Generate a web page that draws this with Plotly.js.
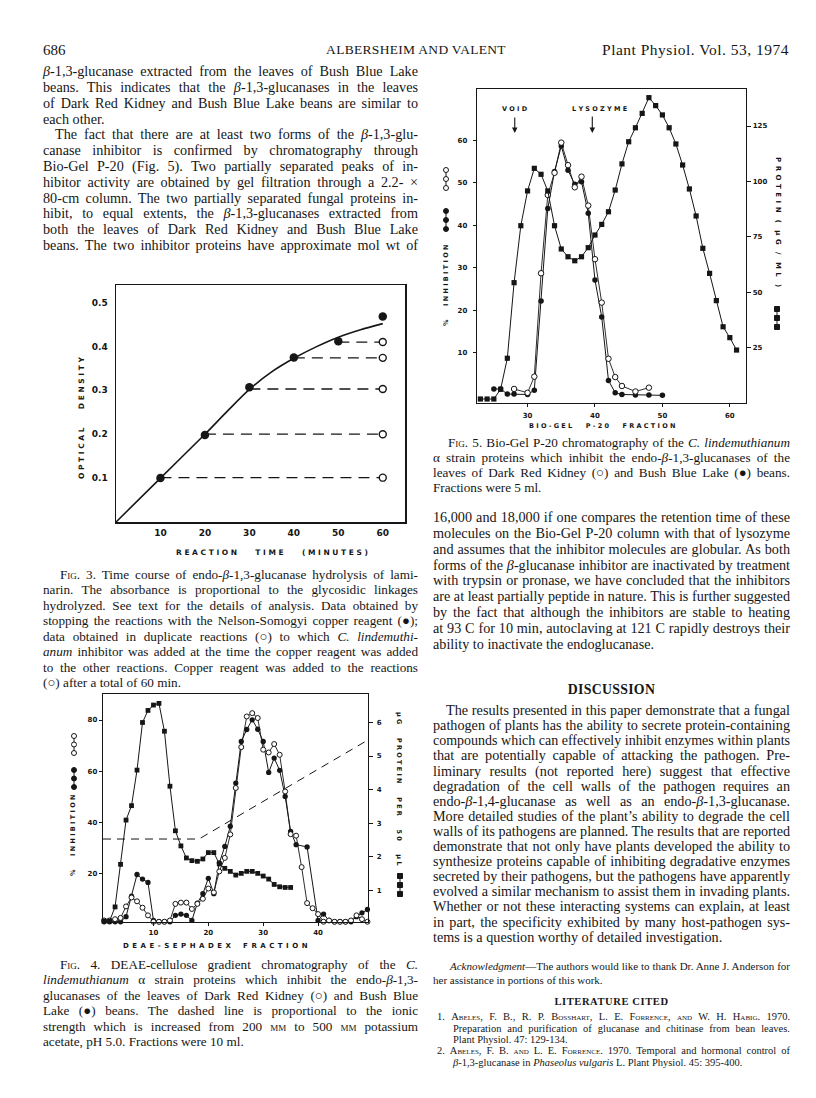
<!DOCTYPE html>
<html><head><meta charset="utf-8">
<script src="https://cdn.plot.ly/plotly-3.0.1.min.js"></script>
<style>
html,body{margin:0;padding:0;background:#fff;}
#page{position:relative;width:816px;height:1098px;overflow:hidden;background:#fff;}
#plot{position:absolute;left:0;top:0;width:816px;height:1098px;}
#text{position:absolute;left:0;top:0;width:816px;height:1098px;pointer-events:none;}
.ln{position:absolute;white-space:nowrap;font-family:"Liberation Serif","Times New Roman",serif;color:#161616;}
.ln span.t{display:inline-block;white-space:nowrap;transform-origin:0 50%;}
.sc{font-variant:small-caps;}
</style></head>
<body><div id="page"><div id="plot"></div><div id="text"></div></div>
<script>
// ================= DATA =================
// Fig. 3  time course (minutes, optical density)
const fig3Time = [10, 20, 30, 40, 50, 60];
const fig3OD = [0.100, 0.198, 0.307, 0.375, 0.412, 0.468];
const fig3CurveTime = [0, 10, 20, 25, 30, 35, 40, 45, 50, 55, 60];
const fig3CurveOD = [0, 0.100, 0.200, 0.252, 0.302, 0.342, 0.373, 0.399, 0.421, 0.438, 0.452];
const fig3StopTime = [10, 20, 30, 40, 50];
const fig3InhibitedOD = [0.101, 0.200, 0.303, 0.374, 0.410];
const fig3InhibitedAt = 60;
const fig3XTicks = [10, 20, 30, 40, 50, 60];
const fig3YTicks = [0.1, 0.2, 0.3, 0.4, 0.5];

// Fig. 4  DEAE-Sephadex fractions
const fig4DRKFrac = [1,2,3,4,5,6,7,8,9,10,11,12,13,14,15,16,17,18,19,20,21,22,23,24,25,26,27,28,29,30,31,32,33,34,35,36,37,38,39,40,41,42,43,44,45,46,47,48,49];
const fig4DRK = [1.5,1.5,2,2.5,7,10.5,9,6.5,3.5,1,1,1,1.5,8,8.5,8.5,6,8,10,14,12.5,20.7,26,35.2,53.4,69.4,81.4,82.7,80.8,68.4,67.3,70.6,66.4,52,35.3,34.7,22.4,8.3,6.3,4,1,1.5,1,1,1,1.5,3.5,2,1];
const fig4BBLFrac = [1,2,3,4,5,6,7,8,9,10,11,12,13,14,15,16,17,18,19,20,21,22,23,24,25,26,27,28,29,30,31,32,33,34,35,36,38,40,41,42,43,44,45,46,47,48,49];
const fig4BBL = [1,1,1,1,3,11,19.5,17.7,16.4,1.5,1,1,1,3.5,4,3.5,1.5,8.3,12,18,12,24,30.5,38.4,55.3,71.6,76.3,80.1,76.4,71.6,59.5,65.1,60.3,50.1,36.4,31.2,30.3,1.5,4,1.5,1,1,1,1,3,4.5,5.8];
const fig4ProtFrac = [1,2,3,4,5,6,7,8,9,10,11,12,13,14,15,16,17,18,19,20,21,22,23,24,25,26,27,28,29,30,31,32,33,34,35];
const fig4Protein = [0.08,0.08,0.5,1.77,3.09,3.52,4.58,6.0,6.36,6.52,6.57,5.74,4.1,2.77,2.32,1.96,1.88,1.86,1.93,2.12,2.12,1.78,1.65,1.56,1.45,1.5,1.56,1.56,1.5,1.42,1.33,1.17,1.1,1.08,1.08];
const fig4GradFrac = [0.8, 18.3, 49.1];
const fig4GradLevel = [33.4, 33.4, 72.2];
const fig4XTicks = [10, 20, 30, 40];
const fig4YTicks = [20, 40, 60, 80];
const fig4Y2Ticks = [1, 2, 3, 4, 5, 6];

// Fig. 5  Bio-Gel P-20 fractions
const fig5ProtFrac = [23,24,25,26,27,28,29,30,31,32,33,34,35,36,37,38,39,40,41,42,43,44,45,46,47,48,49,50,51,52,53,54,55,56,57,58,59,60,61];
const fig5Protein = [1.8,1.8,1.8,6.2,20.2,54.3,80,95.7,105.9,103.2,95.7,80,69.5,66,64.2,66,70.1,75.8,80.6,86.3,96.1,107.9,117.9,124.2,130.7,137.8,134.2,130,124.2,116.9,107.4,96.6,84.4,69.8,58.5,46.2,34.4,29.5,23.9];
const fig5BBLFrac = [25,26,27,28,30,31,32,33,34,35,36,37,38,39,40,41,42,43,44,46,48,50];
const fig5BBL = [1.5,1.5,0.3,0.3,0.2,1.2,22.2,43.9,52.6,58.6,52.9,49.6,50.2,42.8,27.1,18.4,3.5,0.6,0.2,0.1,0.1,0];
const fig5DRKFrac = [28,30,31,32,33,34,35,36,37,38,39,40,41,42,43,44,46,48];
const fig5DRK = [1.5,0.6,4.4,28.7,47.1,52.3,59.4,54.1,48.9,51.4,44.6,32,21.8,8.6,4.3,2.2,0.9,1.8];
const fig5VoidFrac = 28.1;
const fig5LysozymeFrac = 39.6;
const fig5XTicks = [30, 40, 50, 60];
const fig5YTicks = [10, 20, 30, 40, 50, 60];
const fig5Y2Ticks = [25, 50, 75, 100, 125];

// ================= PLOT =================
const W = 816, H = 1098;
const px = v => v / W, py = v => 1 - v / H;
const INK = '#161616';
const tickFont3 = {family: 'DejaVu Sans, sans-serif', size: 9, color: INK, weight: 'bold'};
const tickFontS = {family: 'DejaVu Sans, sans-serif', size: 7, color: INK, weight: 'bold'};
const titleFont3 = {family: 'DejaVu Sans, sans-serif', size: 7.5, color: INK, weight: 'bold'};
const titleFontS = {family: 'DejaVu Sans, sans-serif', size: 6.5, color: INK, weight: 'bold'};
const titleFontM = {family: 'DejaVu Sans, sans-serif', size: 7, color: INK, weight: 'bold'};

function ax(o) {
  return Object.assign({showgrid: false, zeroline: false, showline: true, linecolor: INK, linewidth: 1.5, fixedrange: true}, o);
}

const traces = [];
// Fig 3
traces.push({x: fig3CurveTime, y: fig3CurveOD, xaxis: 'x', yaxis: 'y', mode: 'lines',
  line: {color: INK, width: 1.6, shape: 'spline', smoothing: 0.8}, hoverinfo: 'skip'});
const dx = [], dy = [];
fig3StopTime.forEach((t, i) => { dx.push(t, fig3InhibitedAt, null); dy.push(fig3InhibitedOD[i], fig3InhibitedOD[i], null); });
traces.push({x: dx, y: dy, xaxis: 'x', yaxis: 'y', mode: 'lines', line: {color: INK, width: 1.3, dash: '11px,7px'}});
traces.push({x: fig3Time, y: fig3OD, xaxis: 'x', yaxis: 'y', mode: 'markers', cliponaxis: false,
  marker: {size: 8.5, color: INK}});
traces.push({x: fig3StopTime.map(() => fig3InhibitedAt), y: fig3InhibitedOD, xaxis: 'x', yaxis: 'y', mode: 'markers', cliponaxis: false,
  marker: {size: 7, color: '#fff', line: {color: INK, width: 1.4}}});
// Fig 4
traces.push({x: fig4GradFrac, y: fig4GradLevel, xaxis: 'x2', yaxis: 'y2', mode: 'lines', line: {color: INK, width: 1, dash: '8px,6px'}});
traces.push({x: fig4ProtFrac, y: fig4Protein, xaxis: 'x2', yaxis: 'y3', mode: 'lines+markers', cliponaxis: false,
  line: {color: INK, width: 1}, marker: {symbol: 'square', size: 4.8, color: INK}});
traces.push({x: fig4BBLFrac, y: fig4BBL, xaxis: 'x2', yaxis: 'y2', mode: 'lines+markers', cliponaxis: false,
  line: {color: INK, width: 1}, marker: {size: 5.3, color: INK}});
traces.push({x: fig4DRKFrac, y: fig4DRK, xaxis: 'x2', yaxis: 'y2', mode: 'lines+markers', cliponaxis: false,
  line: {color: INK, width: 0.9}, marker: {size: 5, color: '#fff', line: {color: INK, width: 1}}});
// Fig 5
traces.push({x: fig5ProtFrac, y: fig5Protein, xaxis: 'x3', yaxis: 'y5', mode: 'lines+markers', cliponaxis: false,
  line: {color: INK, width: 1}, marker: {symbol: 'square', size: 5.2, color: INK}});
traces.push({x: fig5BBLFrac, y: fig5BBL, xaxis: 'x3', yaxis: 'y4', mode: 'lines+markers', cliponaxis: false,
  line: {color: INK, width: 1}, marker: {size: 5.5, color: INK}});
traces.push({x: fig5DRKFrac, y: fig5DRK, xaxis: 'x3', yaxis: 'y4', mode: 'lines+markers', cliponaxis: false,
  line: {color: INK, width: 0.9}, marker: {size: 5.5, color: '#fff', line: {color: INK, width: 1}}});

function spaced(s, gap, sep) {
  const g = '\u00A0'.repeat(gap || 5);
  return s.split(' ').map(w => w.split('').join(sep || ' ')).join(g);
}
function ann(text, x, y, font, angle, extra) {
  return Object.assign({text: text, xref: 'paper', yref: 'paper', x: px(x), y: py(y), showarrow: false,
    xanchor: 'center', yanchor: 'middle', font: font, textangle: angle || 0}, extra || {});
}
const annotations = [
  ann(spaced('REACTION TIME (MINUTES)', 7), 272, 552, titleFont3),
  ann(spaced('OPTICAL DENSITY', 7), 81, 418, titleFont3, -90),
  ann(spaced('DEAE-SEPHADEX FRACTION', 5, '\u2002'), 215, 946, titleFontM),
  ann(spaced('% INHIBITION', 6), 73, 836, titleFontS, -90),
  ann(spaced('\u00B5G PROTEIN PER 50 \u00B5L', 6), 399, 789, titleFontS, 90),
  ann(spaced('BIO-GEL P-20 FRACTION', 6), 602, 426, titleFontS),
  ann(spaced('% INHIBITION', 6), 446, 285, titleFontS, -90),
  ann(spaced('PROTEIN ( \u00B5G / ML )', 3, '\u2002'), 778, 222, titleFontM, 90),
  {text: spaced('VOID'), xref: 'x3', yref: 'paper', x: fig5VoidFrac, y: py(109), showarrow: false, xanchor: 'center', yanchor: 'middle', font: titleFontS},
  {text: spaced('LYSOZYME'), xref: 'x3', yref: 'paper', x: fig5LysozymeFrac, xshift: 7, y: py(109), showarrow: false, xanchor: 'center', yanchor: 'middle', font: titleFontS},
  {text: '', xref: 'x3', yref: 'paper', x: fig5VoidFrac, y: py(133), ax: 0, ay: -17, showarrow: true, arrowhead: 2, arrowsize: 1, arrowwidth: 1.1, arrowcolor: INK},
  {text: '', xref: 'x3', yref: 'paper', x: fig5LysozymeFrac, y: py(133), ax: 0, ay: -18, showarrow: true, arrowhead: 2, arrowsize: 1, arrowwidth: 1.1, arrowcolor: INK}
];

// legend glyph stacks (pixel-sized shapes)
const shapes = [];
function stack(x, ys, kind) {
  const mid = (ys[0] + ys[ys.length - 1]) / 2, h = ys[ys.length - 1] - ys[0];
  shapes.push({type: 'line', xref: 'paper', yref: 'paper', xsizemode: 'pixel', ysizemode: 'pixel',
    xanchor: px(x), yanchor: py(mid), x0: 0, x1: 0, y0: -h / 2, y1: h / 2, line: {color: INK, width: 1}});
  ys.forEach(y => {
    const r = 2.5;
    shapes.push({type: kind === 'square' ? 'rect' : 'circle', xref: 'paper', yref: 'paper', xsizemode: 'pixel', ysizemode: 'pixel',
      xanchor: px(x), yanchor: py(y), x0: -r, x1: r, y0: -r, y1: r,
      line: {color: INK, width: 1}, fillcolor: kind === 'open' ? '#fff' : INK});
  });
}
stack(74, [736, 744.5, 753], 'open');
stack(74, [770, 778.5, 787], 'filled');
stack(400, [876, 885, 894], 'square');
stack(446, [170, 179, 188], 'open');
stack(446, [211, 220, 229], 'filled');
stack(777, [309, 318, 327], 'square');

const layout = {
  width: W, height: H, margin: {l: 0, r: 0, t: 0, b: 0}, showlegend: false,
  paper_bgcolor: 'rgba(0,0,0,0)', plot_bgcolor: 'rgba(0,0,0,0)',
  xaxis: ax({domain: [px(116), px(405)], range: [0, 65], anchor: 'y', mirror: true, ticks: '', tickvals: fig3XTicks, tickfont: tickFont3, ticklabelstandoff: 2}),
  yaxis: ax({domain: [py(522), py(285)], range: [0, 0.54], anchor: 'x', mirror: true, ticks: '', tickvals: fig3YTicks, tickfont: tickFont3, ticklabelstandoff: 5}),
  xaxis2: ax({domain: [px(103), px(368)], range: [0.8, 49.1], anchor: 'y2', mirror: true, ticks: 'outside', ticklen: 3, tickcolor: INK, tickvals: fig4XTicks, tickfont: tickFontS, linewidth: 1.3}),
  yaxis2: ax({domain: [py(922), py(694)], range: [0.9, 90.2], anchor: 'x2', ticks: 'outside', ticklen: 3, tickcolor: INK, tickvals: fig4YTicks, tickfont: tickFontS, linewidth: 1.3}),
  yaxis3: ax({overlaying: 'y2', side: 'right', anchor: 'x2', range: [0.05, 6.85], ticks: 'outside', ticklen: 4, tickcolor: INK, tickvals: fig4Y2Ticks, tickfont: tickFontS, linewidth: 1.3, ticklabelstandoff: 2}),
  xaxis3: ax({domain: [px(477), px(746)], range: [22.5, 62.4], anchor: 'y4', mirror: true, ticks: 'outside', ticklen: 3, tickcolor: INK, tickvals: fig5XTicks, tickfont: tickFontS, linewidth: 1.3, ticklabelstandoff: 2}),
  yaxis4: ax({domain: [py(403), py(89)], range: [-1.8, 72], anchor: 'x3', ticks: 'outside', ticklen: 3, tickcolor: INK, tickvals: fig5YTicks, tickfont: tickFontS, linewidth: 1.3, ticklabelstandoff: 4}),
  yaxis5: ax({overlaying: 'y4', side: 'right', anchor: 'x3', range: [0, 141.7], ticks: 'outside', ticklen: 4, tickcolor: INK, tickvals: fig5Y2Ticks, tickfont: tickFontS, linewidth: 1.3}),
  annotations: annotations, shapes: shapes
};
Plotly.newPlot('plot', traces, layout, {staticPlot: true, displayModeBar: false});

// ================= TEXT =================
const textRoot = document.getElementById('text');
function block(lines, o) {
  lines.forEach((html, i) => {
    const size = o.size, lh = size * 1.25;
    const y = o.y0 + i * o.pitch;
    const ind = (o.indent && o.indent[i]) || 0;
    const d = document.createElement('div');
    d.className = 'ln';
    d.style.left = (o.x + ind) + 'px';
    d.style.top = (y - lh / 2) + 'px';
    d.style.width = (o.w - ind) + 'px';
    d.style.fontSize = size + 'px';
    d.style.lineHeight = lh + 'px';
    if (o.weight) d.style.fontWeight = o.weight;
    if (o.ls) d.style.letterSpacing = o.ls + 'px';
    if (o.align) d.style.textAlign = o.align;
    const s = document.createElement('span');
    s.className = 't';
    s.innerHTML = html;
    d.appendChild(s);
    textRoot.appendChild(d);
    const nat = s.getBoundingClientRect().width, target = o.w - ind;
    const ragged = o.ragged && o.ragged.indexOf(i) >= 0;
    if (nat > target) s.style.transform = 'scaleX(' + (target / nat) + ')';
    else if (o.justify && !ragged) {
      const n = (s.textContent.match(/ /g) || []).length;
      if (n) s.style.wordSpacing = ((target - nat) / n) + 'px';
    }
  });
}
const B = '<i>\u03B2</i>';
const FIG = n => 'F<span class="sc">ig</span>. ' + n + '.';

// header
block(['686'], {x: 43, w: 60, y0: 50, pitch: 0, size: 15});
block(['ALBERSHEIM AND VALENT'], {x: 316, w: 200, y0: 50, pitch: 0, size: 13.5, ls: 0.3, align: 'center'});
block(['Plant Physiol. Vol. 53, 1974'], {x: 560, w: 229, y0: 50, pitch: 0, size: 15.5, ls: 0.5, align: 'right'});

block([
  B + '-1,3-glucanase extracted from the leaves of Bush Blue Lake',
  'beans. This indicates that the ' + B + '-1,3-glucanases in the leaves',
  'of Dark Red Kidney and Bush Blue Lake beans are similar to',
  'each other.',
  'The fact that there are at least two forms of the ' + B + '-1,3-glu-',
  'canase inhibitor is confirmed by chromatography through',
  'Bio-Gel P-20 (Fig. 5). Two partially separated peaks of in-',
  'hibitor activity are obtained by gel filtration through a 2.2- \u00D7',
  '80-cm column. The two partially separated fungal proteins in-',
  'hibit, to equal extents, the ' + B + '-1,3-glucanases extracted from',
  'both the leaves of Dark Red Kidney and Bush Blue Lake',
  'beans. The two inhibitor proteins have approximate mol wt of'
], {x: 43, w: 375, y0: 72, pitch: 15.8, size: 14.2, justify: true, ragged: [3], indent: {4: 12}});

block([
  FIG(3) + ' Time course of endo-' + B + '-1,3-glucanase hydrolysis of lami-',
  'narin. The absorbance is proportional to the glycosidic linkages',
  'hydrolyzed. See text for the details of analysis. Data obtained by',
  'stopping the reactions with the Nelson-Somogyi copper reagent (\u25CF);',
  'data obtained in duplicate reactions (\u25CB) to which <i>C. lindemuthi-</i>',
  '<i>anum</i> inhibitor was added at the time the copper reagent was added',
  'to the other reactions. Copper reagent was added to the reactions',
  '(\u25CB) after a total of 60 min.'
], {x: 43, w: 375, y0: 575, pitch: 15.5, size: 13.2, justify: true, ragged: [7], indent: {0: 17}});

block([
  FIG(4) + ' DEAE-cellulose gradient chromatography of the <i>C.</i>',
  '<i>lindemuthianum</i> \u03B1 strain proteins which inhibit the endo-' + B + '-1,3-',
  'glucanases of the leaves of Dark Red Kidney (\u25CB) and Bush Blue',
  'Lake (\u25CF) beans. The dashed line is proportional to the ionic',
  'strength which is increased from 200 <span class="sc">mm</span> to 500 <span class="sc">mm</span> potassium',
  'acetate, pH 5.0. Fractions were 10 ml.'
], {x: 43, w: 375, y0: 965, pitch: 15.5, size: 13.2, justify: true, ragged: [5], indent: {0: 17}});

block([
  FIG(5) + ' Bio-Gel P-20 chromatography of the <i>C. lindemuthianum</i>',
  '\u03B1 strain proteins which inhibit the endo-' + B + '-1,3-glucanases of the',
  'leaves of Dark Red Kidney (\u25CB) and Bush Blue Lake (\u25CF) beans.',
  'Fractions were 5 ml.'
], {x: 433, w: 357, y0: 443, pitch: 15.2, size: 13.2, justify: true, ragged: [3], indent: {0: 15}});

block([
  '16,000 and 18,000 if one compares the retention time of these',
  'molecules on the Bio-Gel P-20 column with that of lysozyme',
  'and assumes that the inhibitor molecules are globular. As both',
  'forms of the ' + B + '-glucanase inhibitor are inactivated by treatment',
  'with trypsin or pronase, we have concluded that the inhibitors',
  'are at least partially peptide in nature. This is further suggested',
  'by the fact that although the inhibitors are stable to heating',
  'at 93 C for 10 min, autoclaving at 121 C rapidly destroys their',
  'ability to inactivate the endoglucanase.'
], {x: 433, w: 357, y0: 518, pitch: 15.8, size: 14.2, justify: true, ragged: [8]});

block(['DISCUSSION'], {x: 433, w: 357, y0: 690, pitch: 0, size: 13.8, weight: 'bold', ls: 0.3, align: 'center'});

block([
  'The results presented in this paper demonstrate that a fungal',
  'pathogen of plants has the ability to secrete protein-containing',
  'compounds which can effectively inhibit enzymes within plants',
  'that are potentially capable of attacking the pathogen. Pre-',
  'liminary results (not reported here) suggest that effective',
  'degradation of the cell walls of the pathogen requires an',
  'endo-' + B + '-1,4-glucanase as well as an endo-' + B + '-1,3-glucanase.',
  'More detailed studies of the plant\u2019s ability to degrade the cell',
  'walls of its pathogens are planned. The results that are reported',
  'demonstrate that not only have plants developed the ability to',
  'synthesize proteins capable of inhibiting degradative enzymes',
  'secreted by their pathogens, but the pathogens have apparently',
  'evolved a similar mechanism to assist them in invading plants.',
  'Whether or not these interacting systems can explain, at least',
  'in part, the specificity exhibited by many host-pathogen sys-',
  'tems is a question worthy of detailed investigation.'
], {x: 433, w: 357, y0: 711, pitch: 15.1, size: 14.2, justify: true, ragged: [15], indent: {0: 13}});

block([
  '<i>Acknowledgment</i>\u2014The authors would like to thank Dr. Anne J. Anderson for',
  'her assistance in portions of this work.'
], {x: 433, w: 357, y0: 967, pitch: 13.5, size: 11, justify: true, ragged: [1], indent: {0: 17}});

block(['LITERATURE CITED'], {x: 433, w: 357, y0: 1002, pitch: 0, size: 10.5, weight: 'bold', ls: 0.6, align: 'center'});

block([
  '1. <span class="sc">Abeles</span>, F. B., R. P. <span class="sc">Bosshart</span>, L. E. <span class="sc">Forrence</span>, <span class="sc">and</span> W. H. <span class="sc">Habig</span>. 1970.',
  'Preparation and purification of glucanase and chitinase from bean leaves.',
  'Plant Physiol. 47: 129-134.',
  '2. <span class="sc">Abeles</span>, F. B. <span class="sc">and</span> L. E. <span class="sc">Forrence</span>. 1970. Temporal and hormonal control of',
  B + '-1,3-glucanase in <i>Phaseolus vulgaris</i> L. Plant Physiol. 45: 395-400.'
], {x: 437, w: 353, y0: 1017, pitch: 11.3, size: 10.5, justify: true, ragged: [2, 4], indent: {1: 16, 2: 16, 4: 16}});
</script>
</body></html>
